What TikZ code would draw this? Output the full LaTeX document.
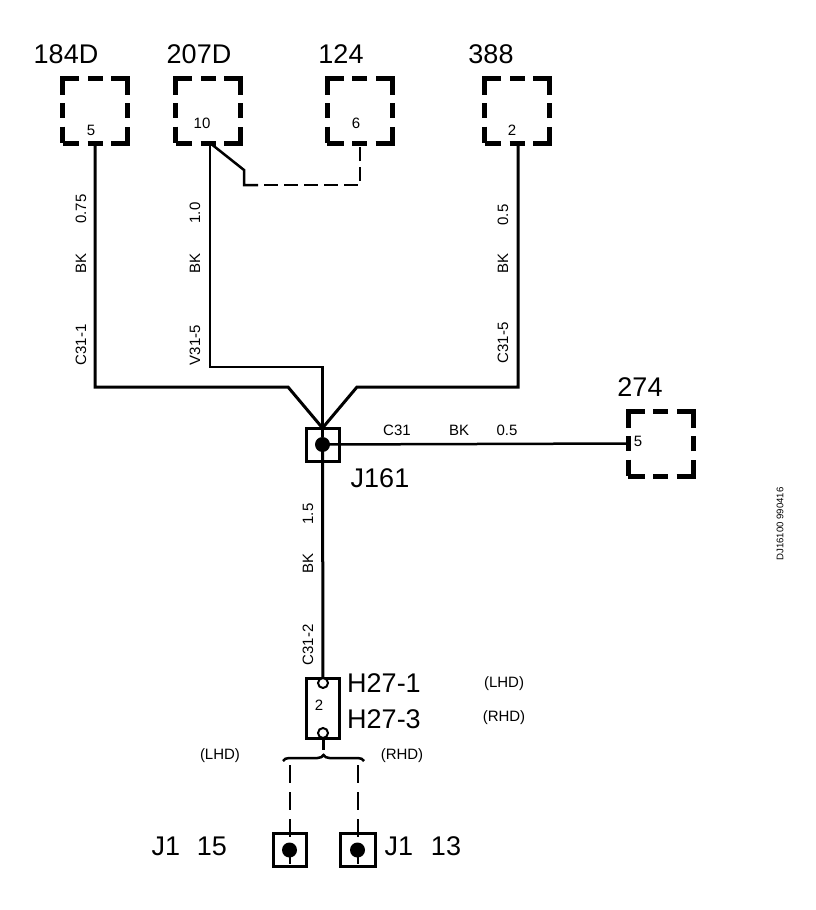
\documentclass[tikz,border=0pt]{standalone}
\usepackage{fontspec}
\setmainfont{Liberation Sans}
\usetikzlibrary{decorations.pathreplacing}
\tikzstyle{module}=[rectangle,draw,line width=5pt,minimum size=65pt,inner sep=0pt,outer sep=0pt,dash pattern=on 33pt off 8.5pt on 15pt off 8.5pt,dash phase=16.5pt]
\tikzstyle{splice}=[rectangle,draw,line width=3pt,minimum size=33pt,inner sep=0pt,outer sep=0pt]
\tikzstyle{dot}=[circle,fill=black,minimum size=15pt,inner sep=0pt,outer sep=0pt]
\tikzstyle{hole}=[circle,draw,fill=white,line width=2pt,minimum size=10pt,inner sep=0pt,outer sep=0pt]
\tikzstyle{wire}=[draw,line width=3pt,-]
\tikzstyle{thin wire}=[draw,line width=2.5pt,-]
\tikzstyle{big}=[inner sep=0pt,font=\fontsize{27}{27}\selectfont]
\tikzstyle{small}=[inner sep=0pt,font=\fontsize{15}{15}\selectfont]
\tikzstyle{tiny}=[inner sep=0pt,font=\fontsize{9.6}{9.6}\selectfont]

\begin{document}
\begin{tikzpicture}[x=1pt,y=-1pt]
    \useasboundingbox (0,0) rectangle (816,910);
    % First we draw the modules with their titles
    \foreach \pos/\name/\tpos in {{(95,110.5)/184D/(66,54)}, {(208,110.5)/207D/(199,54)}, {(359.5,110.5)/124/(341,54)}, {(517,110.5)/388/(491,54)}, {(660.5,443.5)/274/(640,387)}}{
        \node[module] (m\name) at \pos {};
        \node[big] (t\name) at \tpos {\name};
    }
    % Pin numbers
    \foreach \pos/\name/\txt in {{(91,130)/a/5}, {(202,123)/b/10}, {(356,123)/c/6}, {(512,130)/d/2}, {(638,441)/e/5}, {(319,705)/f/2}}
        \node[small] (pin\name) at \pos {\txt};

    % Splice, connector and terminals
    \node[splice] (j161) at (322.5,444.5) {};
    \node[dot] (j161dot) at (322.5,444.5) {};
    \node[rectangle,draw,line width=2.5pt,minimum width=33pt,minimum height=60pt,inner sep=0pt,outer sep=0pt] (h27) at (323,708.5) {};
    \node[hole] (h27a) at (323,683) {};
    \node[hole] (h27b) at (323,733) {};
    \node[splice] (j15) at (289.5,850) {};
    \node[dot] (j15dot) at (289.5,850) {};
    \node[splice,minimum width=35pt] (j13) at (357.5,850) {};
    \node[dot] (j13dot) at (357.5,850) {};

    % Points on the wires
    \coordinate (p184) at (95,143);
    \coordinate (p207) at (210,143);
    \coordinate (p124) at (360,143);
    \coordinate (p388) at (518,143);
    \coordinate (c184) at (95,387);
    \coordinate (c184b) at (288,387);
    \coordinate (c207) at (210,367);
    \coordinate (c207b) at (322.5,367);
    \coordinate (c388) at (518,387);
    \coordinate (c388b) at (357,387);
    \coordinate (k1) at (244,170);
    \coordinate (k2) at (244,185);
    \coordinate (k3) at (258,185);
    \coordinate (k4) at (360,185);
    \coordinate (b1) at (283,761);
    \coordinate (b2) at (364,761);
    \coordinate (b3) at (323,750);
    \coordinate (d1) at (289.5,765);
    \coordinate (d2) at (357.5,765);

    % Connect them with wires
    \path[wire] (p184) -- (c184) -- (c184b) -- (j161.north);
    \path[thin wire] (p207) -- (c207) -- (c207b) -- (j161dot);
    \path[wire] (p388) -- (c388) -- (c388b) -- (j161.north);
    \path[thin wire] (p207) -- (k1) -- (k2) -- (k3);
    \path[thin wire,dash pattern=on 14pt off 6pt,dash phase=-6pt] (k3) -- (k4) -- (p124);
    \path[thin wire] (j161dot) -- (m274.west);
    \path[wire] (j161dot) -- (h27a);
    \path[wire] (h27b) -- (b3);
    \draw[line width=2.5pt,decorate,decoration={brace,amplitude=6pt}] (b1) -- (b2);
    \path[thin wire,line width=2pt,dash pattern=on 18pt off 9pt] (d1) -- (j15.south);
    \path[thin wire,line width=2pt,dash pattern=on 18pt off 9pt] (d2) -- (j13.south);

    % Wire labels
    \foreach \pos/\name/\txt in {{(81,209)/la/0.75}, {(81,263)/lb/BK}, {(81,345)/lc/C31-1}, {(195,213)/ld/1.0}, {(195,263)/le/BK}, {(195,345)/lf/V31-5}, {(503,215)/lg/0.5}, {(503,263)/lh/BK}, {(503,343)/li/C31-5}, {(308,514)/lj/1.5}, {(308,563)/lk/BK}, {(308,645)/ll/C31-2}}
        \node[small,rotate=90] (\name) at \pos {\txt};
    \foreach \pos/\name/\txt in {{(397,430)/ma/C31}, {(459,430)/mb/BK}, {(507,430)/mc/0.5}, {(504,684)/md/(LHD)}, {(504,718)/me/(RHD)}, {(220,756)/mf/(LHD)}, {(402,756)/mg/(RHD)}}
        \node[small] (\name) at \pos {\txt};
    \foreach \pos/\name/\txt in {{(380,478)/na/J161}, {(384,683)/nb/H27-1}, {(384,719)/nc/H27-3}, {(166,846)/nd/J1}, {(212,846)/ne/15}, {(399,846)/nf/J1}, {(446,846)/ng/13}}
        \node[big] (\name) at \pos {\txt};
    \node[tiny,rotate=90] (code) at (780,524) {DJ16100 990416};
\end{tikzpicture}
\end{document}
